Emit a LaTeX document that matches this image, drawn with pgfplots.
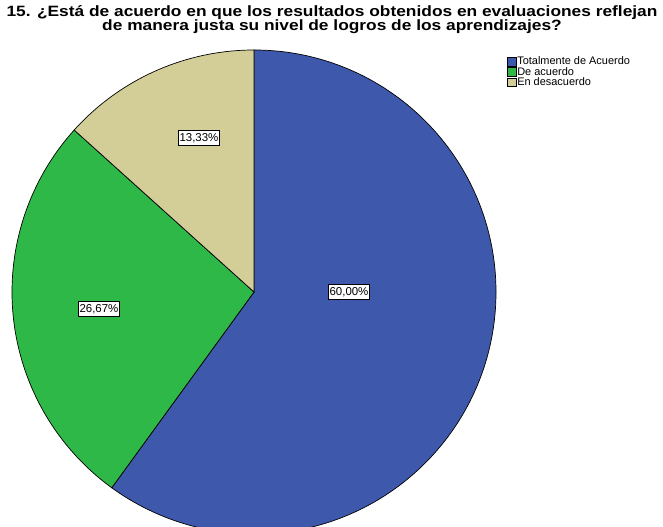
\documentclass[border=0pt]{standalone}
\usepackage{fontspec}
\setmainfont{Liberation Sans}
\usepackage{pgfplots}
\usepackage{pgfplotstable}
\pgfplotsset{compat=1.18}

\definecolor{spssblue}{HTML}{3E58AC}
\definecolor{spssgreen}{HTML}{2EB848}
\definecolor{spsstan}{HTML}{D3CE97}

% slices, clockwise from 12 o'clock; lx,ly = label position (px, y up)
\pgfplotstableread[col sep=comma]{
label,value,color,text,lx,ly
Totalmente de Acuerdo,60.00,spssblue,{60,00\%},349,235
De acuerdo,26.67,spssgreen,{26,67\%},99,218
En desacuerdo,13.33,spsstan,{13,33\%},199,389
}\piedata

\begin{document}
\begin{tikzpicture}
\begin{axis}[
    scale only axis,
    width=663bp, height=527bp,
    xmin=0, xmax=663, ymin=0, ymax=527,
    hide axis, clip=false,
    legend style={
        at={(axis cs:507,471)}, anchor=north west,
        draw=none, fill=none,
        font=\fontsize{11}{12}\selectfont,
        inner sep=0pt, row sep=-0.3pt,
        nodes={inner xsep=1.2pt, inner ysep=0.6pt, anchor=west},
    },
    legend cell align=left,
    legend image code/.code={\draw[#1] (0bp,-4.2bp) rectangle (8.5bp,4.2bp);},
]
\pgfplotstablegetrowsof{\piedata}
\pgfmathtruncatemacro\nrows{\pgfplotsretval-1}
\xdef\startang{90}
\pgfplotsforeachungrouped \i in {0,...,\nrows}{%
  \pgfplotstablegetelem{\i}{value}\of\piedata \let\val\pgfplotsretval
  \pgfplotstablegetelem{\i}{color}\of\piedata \let\col\pgfplotsretval
  \pgfmathsetmacro\endang{\startang-3.6*\val}%
  \edef\temp{\noexpand\fill[\col, draw=black, line width=0.7pt]
    (axis cs:254,235) -- ++(\startang:242bp)
    arc[start angle=\startang, end angle=\endang, radius=242bp] -- cycle;}%
  \temp
  \xdef\startang{\endang}%
}
\pgfplotsforeachungrouped \i in {0,...,\nrows}{%
  \pgfplotstablegetelem{\i}{text}\of\piedata \let\txt\pgfplotsretval
  \pgfplotstablegetelem{\i}{lx}\of\piedata \let\lx\pgfplotsretval
  \pgfplotstablegetelem{\i}{ly}\of\piedata \let\ly\pgfplotsretval
  \edef\temp{\noexpand\node[fill=white, draw=black, line width=0.6pt,
    inner xsep=1.3pt, inner ysep=2.8pt,
    font=\noexpand\fontsize{11.5}{12}\noexpand\selectfont]
    at (axis cs:\lx,\ly) {\unexpanded\expandafter{\txt}};}%
  \temp
}

\addlegendimage{fill=spssblue, draw=black}
\addlegendentry{Totalmente de Acuerdo}
\addlegendimage{fill=spssgreen, draw=black}
\addlegendentry{De acuerdo}
\addlegendimage{fill=spsstan, draw=black}
\addlegendentry{En desacuerdo}

\node[anchor=north, align=center, xscale=1.16, transform shape,
      font=\bfseries\fontsize{15}{14.5}\selectfont]
  at (axis cs:332,525)
  {15. ¿Está de acuerdo en que los resultados obtenidos en evaluaciones reflejan\\
   de manera justa su nivel de logros de los aprendizajes?};
\end{axis}
\pgfresetboundingbox
\useasboundingbox (0,0) rectangle (663bp,527bp);
\end{tikzpicture}
\end{document}
